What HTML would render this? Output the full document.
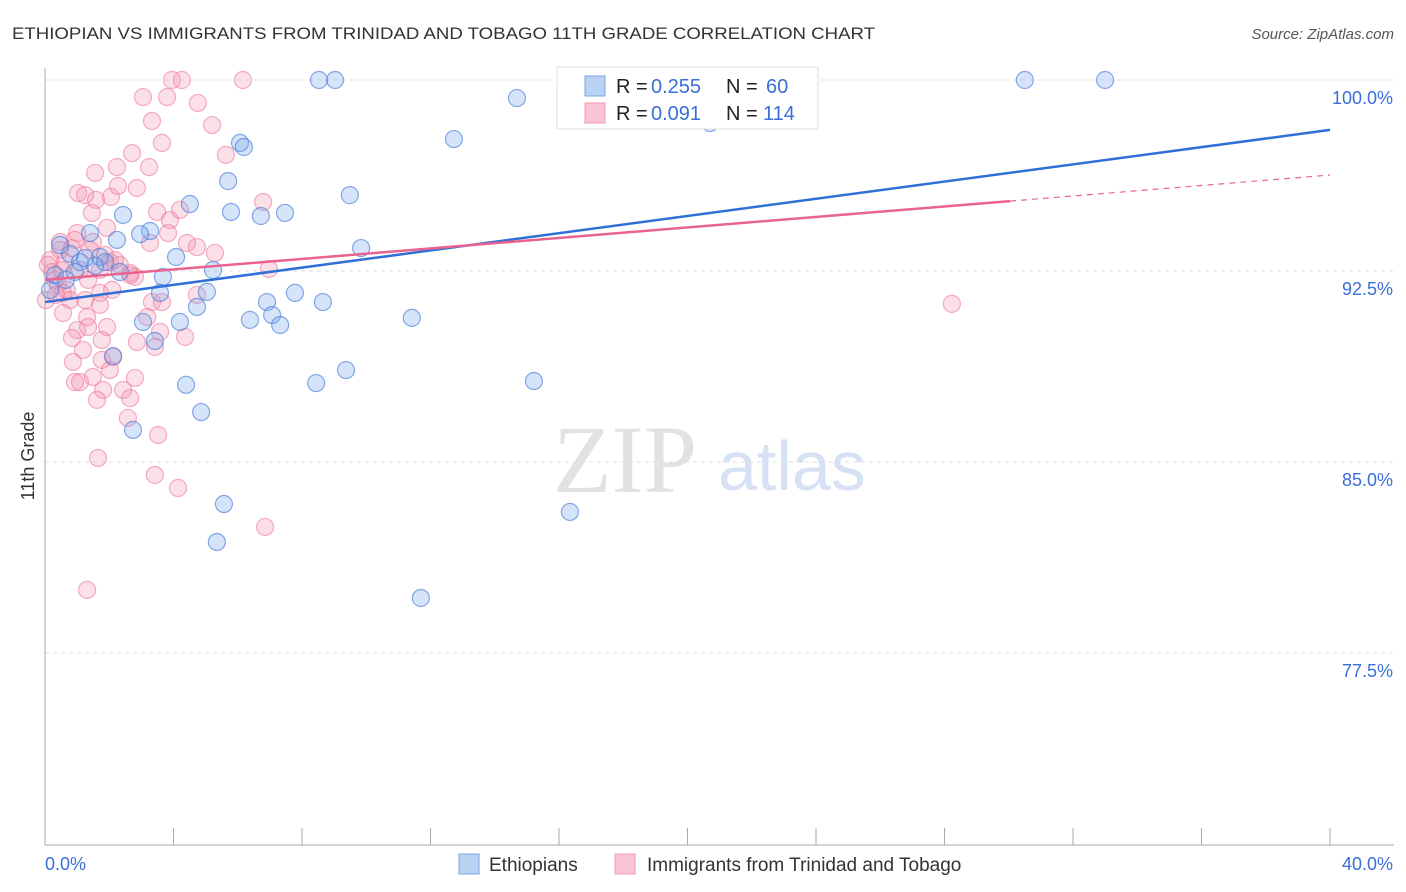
<!DOCTYPE html>
<html><head><meta charset="utf-8"><style>
body{margin:0;background:#fff;}
svg{display:block;font-family:"Liberation Sans",sans-serif;}
</style></head><body>
<svg id="chart" width="1406" height="892">
<text x="12" y="39" font-size="17" fill="#333" textLength="863" lengthAdjust="spacingAndGlyphs">ETHIOPIAN VS IMMIGRANTS FROM TRINIDAD AND TOBAGO 11TH GRADE CORRELATION CHART</text>
<text x="1394" y="39" font-size="15" fill="#555" font-style="italic" text-anchor="end">Source: ZipAtlas.com</text>
<g>
<text x="553" y="492" font-size="96" font-family="Liberation Serif,serif" fill="#e2e2e2">ZIP</text>
<text x="718" y="490" font-size="70" fill="#d6e2f4">atlas</text>
</g>
<g id="grid"></g>
<g id="axes"></g>
<g id="pts"></g>
<g id="lines"></g>
<text transform="translate(34,456) rotate(-90)" font-size="18" fill="#333" text-anchor="middle">11th Grade</text>
<g>
<rect x="557" y="67" width="261" height="62" fill="#fff" stroke="#ddd"/>
<rect x="585" y="76" width="20" height="20" fill="#b9d2f4" stroke="#7aa6e6"/>
<rect x="585" y="103" width="20" height="20" fill="#f9c5d4" stroke="#f09ab5"/>
<text y="93" font-size="20" fill="#222"><tspan x="616">R =</tspan><tspan x="651" fill="#3a6fd8">0.255</tspan><tspan x="726">N =</tspan><tspan x="766" fill="#3a6fd8">60</tspan></text>
<text y="120" font-size="20" fill="#222"><tspan x="616">R =</tspan><tspan x="651" fill="#3a6fd8">0.091</tspan><tspan x="726">N =</tspan><tspan x="763" fill="#3a6fd8">114</tspan></text>
</g>
<g>
<rect x="459" y="854" width="20" height="20" fill="#b9d2f4" stroke="#7aa6e6"/>
<text x="489" y="871" font-size="19" fill="#333">Ethiopians</text>
<rect x="615" y="854" width="20" height="20" fill="#f9c5d4" stroke="#f09ab5"/>
<text x="647" y="871" font-size="19" fill="#333">Immigrants from Trinidad and Tobago</text>
</g>
</svg>
<script>
const yTicks=[100,92.5,85,77.5];
const yTickLabels=["100.0%","92.5%","85.0%","77.5%"];
const xTicks=[0,4,8,12,16,20,24,28,32,36,40];
const xEndLabels=["0.0%","40.0%"];
const blueX=[8.53,9.03,30.5,33.0,14.69,20.7,12.73,6.07,6.19,5.70,9.49,4.51,5.79,6.72,7.47,2.43,1.40,3.27,2.96,2.24,9.84,0.78,1.09,1.71,4.08,1.56,2.33,5.23,3.67,3.58,5.04,6.91,7.78,8.65,4.73,6.38,7.07,7.32,11.42,4.20,3.05,3.42,2.12,9.37,8.44,15.22,4.39,4.86,2.74,16.34,5.57,5.35,11.70,0.47,0.31,0.16,0.93,1.25,1.87,0.65];
const blueY=[100,100,100,100,99.29,98.31,97.68,97.53,97.37,96.03,95.48,95.13,94.82,94.66,94.78,94.70,93.99,94.07,93.95,93.72,93.40,93.17,92.85,93.05,93.05,92.70,92.46,92.54,92.27,91.64,91.68,91.28,91.64,91.28,91.09,90.58,90.77,90.38,90.66,90.50,90.50,89.75,89.16,88.61,88.10,88.18,88.03,86.96,86.26,83.04,83.35,81.86,79.66,93.52,92.34,91.75,92.46,93.01,92.85,92.15];
const pinkX=[3.95,4.26,6.16,3.80,3.05,4.76,3.33,5.20,3.64,5.63,2.71,1.56,2.24,3.24,1.03,1.25,1.59,2.05,2.27,2.86,1.46,1.93,6.79,3.49,3.89,3.83,4.20,3.27,4.42,4.73,5.29,1.00,1.49,0.47,0.16,0.31,0.56,1.71,2.09,2.65,2.80,6.97,3.33,3.64,4.73,0.56,1.31,1.71,3.18,1.93,1.00,0.84,1.34,1.77,2.86,3.58,4.36,3.42,1.18,0.87,1.77,2.02,2.12,0.93,1.09,1.49,2.80,1.81,2.43,2.65,1.62,2.58,3.52,1.65,3.42,4.14,6.85,1.31,28.23,0.09,0.22,0.40,0.53,0.68,0.78,0.03,0.34,0.62,0.84,1.09,1.34,1.71,2.02,2.33,2.65,0.47,0.93,1.40,1.87,2.18,1.25];
const pinkY=[100,100,100,99.33,99.33,99.10,98.39,98.23,97.53,97.06,97.13,96.35,96.58,96.58,95.56,95.48,95.29,95.41,95.84,95.76,94.78,94.19,95.21,94.82,94.50,93.99,94.90,93.60,93.60,93.44,93.21,93.99,93.64,93.64,92.93,92.15,91.64,91.64,91.76,92.42,92.27,92.58,91.28,91.28,91.56,90.85,90.69,91.17,90.69,90.30,90.18,89.87,90.30,89.79,89.71,90.11,89.91,89.52,89.40,88.93,89.01,88.61,89.12,88.14,88.14,88.34,88.30,87.83,87.83,87.51,87.44,86.73,86.06,85.16,84.49,83.98,82.45,79.98,91.21,92.74,92.46,91.95,92.54,91.76,91.36,91.36,91.56,92.85,93.40,92.54,92.15,92.54,92.85,92.74,92.34,93.33,93.72,93.33,93.13,92.93,91.36];
const blueTrend=[91.28,98.04];
const pinkTrend=[92.15,96.27];
const pinkSolidEnd=30.04;

const NS="http://www.w3.org/2000/svg";
const X=v=>45+v/40*1285;
const Y=v=>80+(100-v)/7.5*191;
function mk(tag,attrs,parent){const e=document.createElementNS(NS,tag);for(const k in attrs)e.setAttribute(k,attrs[k]);parent.appendChild(e);return e;}
const grid=document.getElementById('grid'),axes=document.getElementById('axes'),pts=document.getElementById('pts'),lines=document.getElementById('lines');
yTicks.forEach((t,i)=>{
 const l=mk('line',{x1:45,x2:1394,y1:Y(t),y2:Y(t),stroke:'#ddd','stroke-dasharray':'4,4'},grid);
 
 
 const tx=mk('text',{x:1393,y:Y(t)+24,'font-size':18,fill:'#3a6fd8','text-anchor':'end'},axes);
 tx.textContent=yTickLabels[i];
 
 
});
const ya=mk('line',{x1:45,x2:45,y1:68,y2:845,stroke:'#aaa'},axes);


const xa=mk('line',{x1:45,x2:1394,y1:845,y2:845,stroke:'#aaa'},axes);


xTicks.forEach(t=>{
 const l=mk('line',{x1:X(t),x2:X(t),y1:828,y2:845,stroke:'#aaa'},axes);
 
 
});
const xl0=mk('text',{x:45,y:870,'font-size':18,fill:'#3a6fd8'},axes);xl0.textContent=xEndLabels[0];


const xl1=mk('text',{x:1393,y:870,'font-size':18,fill:'#3a6fd8','text-anchor':'end'},axes);xl1.textContent=xEndLabels[1];


pinkX.forEach((v,i)=>{
 const c=mk('circle',{cx:X(v),cy:Y(pinkY[i]),r:8.5,fill:'rgba(244,143,174,0.28)',stroke:'rgba(236,120,158,0.6)','stroke-width':1.2},pts);
 
 
});
blueX.forEach((v,i)=>{
 const c=mk('circle',{cx:X(v),cy:Y(blueY[i]),r:8.5,fill:'rgba(120,165,235,0.3)',stroke:'rgba(70,125,215,0.65)','stroke-width':1.2},pts);
 
 
});
const bl=mk('line',{x1:X(0),y1:Y(blueTrend[0]),x2:X(40),y2:Y(blueTrend[1]),stroke:'#2f6fd6','stroke-width':2.5},lines);


const pAt=x=>pinkTrend[0]+(pinkTrend[1]-pinkTrend[0])*x/40;
const pl=mk('line',{x1:X(0),y1:Y(pinkTrend[0]),x2:X(pinkSolidEnd),y2:Y(pAt(pinkSolidEnd)),stroke:'#e8648f','stroke-width':2.5},lines);


const pd=mk('line',{x1:X(pinkSolidEnd),y1:Y(pAt(pinkSolidEnd)),x2:X(40),y2:Y(pinkTrend[1]),stroke:'#e8648f','stroke-width':1.2,'stroke-dasharray':'6,5'},lines);


</script>
</body></html>
